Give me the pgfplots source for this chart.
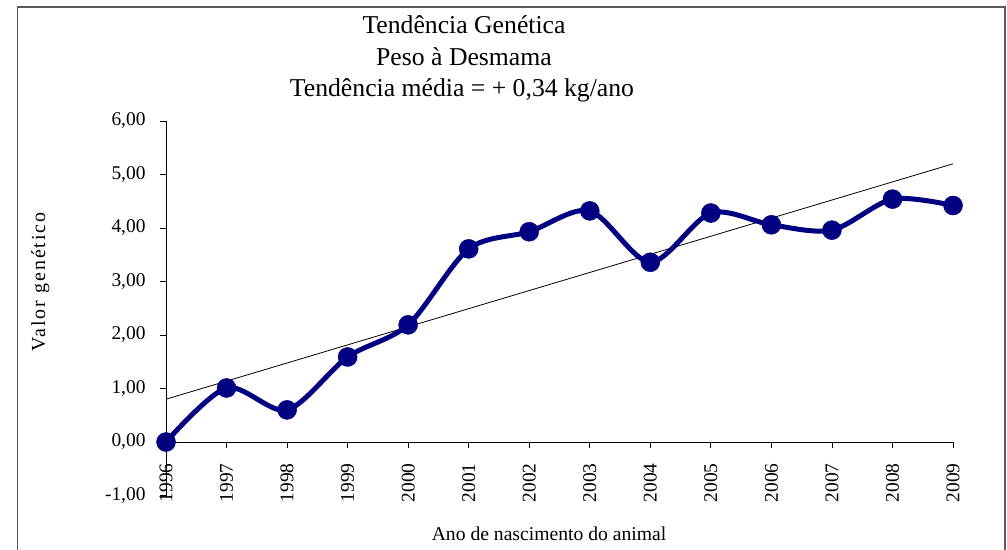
\documentclass[border=0pt]{standalone}
\usepackage{fontspec}
\setmainfont{Liberation Serif}
\usepackage{pgfplots}
\pgfplotsset{compat=1.18}
\definecolor{navyblue}{RGB}{0,0,128}
\begin{document}
\begin{tikzpicture}[x=1bp,y=1bp]
\path[use as bounding box] (0,0) rectangle (1007,-550);
\draw[line width=1.5bp, black!65] (17.5,-550) -- (17.5,-7) -- (1005,-7) -- (1005,-550);
\node[anchor=base, font=\fontsize{25.8}{28}\selectfont] at (464,-34) {Tendência Genética};
\node[anchor=base, font=\fontsize{25.8}{28}\selectfont] at (464,-66) {Peso à Desmama};
\node[anchor=base, font=\fontsize{25.8}{28}\selectfont] at (462,-97) {Tendência média = + 0,34 kg/ano};
\node[anchor=base, font=\fontsize{19.7}{22}\selectfont] at (549,-540) {Ano de nascimento do animal};
\node[anchor=base, rotate=90, font=\fontsize{20}{22}\selectfont\addfontfeature{LetterSpace=10}] at (45,-282) {Valor genético};
\begin{axis}[
  at={(166bp,-495.5bp)}, anchor=south west,
  scale only axis, width=787bp, height=374.5bp,
  xmin=1996, xmax=2009, ymin=-1, ymax=6,
  axis x line=middle, axis y line=left,
  hide obscured x ticks=false, hide obscured y ticks=false,
  axis line style={-, line width=0.9bp, black},
  tick align=outside, major tick length=6bp,
  tick style={line width=0.8bp, black},
  xtick={1997,1998,...,2009},
  xticklabels={1997,1998,1999,2000,2001,2002,2003,2004,2005,2006,2007,2008,2009},
  extra x ticks={1996},
  extra x tick labels={1996},
  x tick label style={rotate=90, anchor=east, xshift=-12bp, font=\fontsize{19.5}{22}\selectfont},
  ytick={-1,0,...,6},
  yticklabel style={font=\fontsize{19.5}{22}\selectfont, xshift=-11bp,
    /pgf/number format/.cd, fixed, fixed zerofill, precision=2, use comma},
  /pgf/number format/assume math mode=true,
  clip=false,
]
\addplot[black, line width=0.8bp] coordinates {(1996,0.80) (2009,5.20)};
\addplot[navyblue, line width=5bp, smooth, tension=0.5, mark=*, mark size=9.5bp,
  mark options={fill=navyblue, draw=navyblue, line width=0.5bp}] coordinates {
(1996,0.00) (1997,1.01) (1998,0.60) (1999,1.59) (2000,2.19) (2001,3.61) (2002,3.93)
(2003,4.32) (2004,3.36) (2005,4.28) (2006,4.06) (2007,3.96) (2008,4.54) (2009,4.42)};
\end{axis}
\end{tikzpicture}
\end{document}
